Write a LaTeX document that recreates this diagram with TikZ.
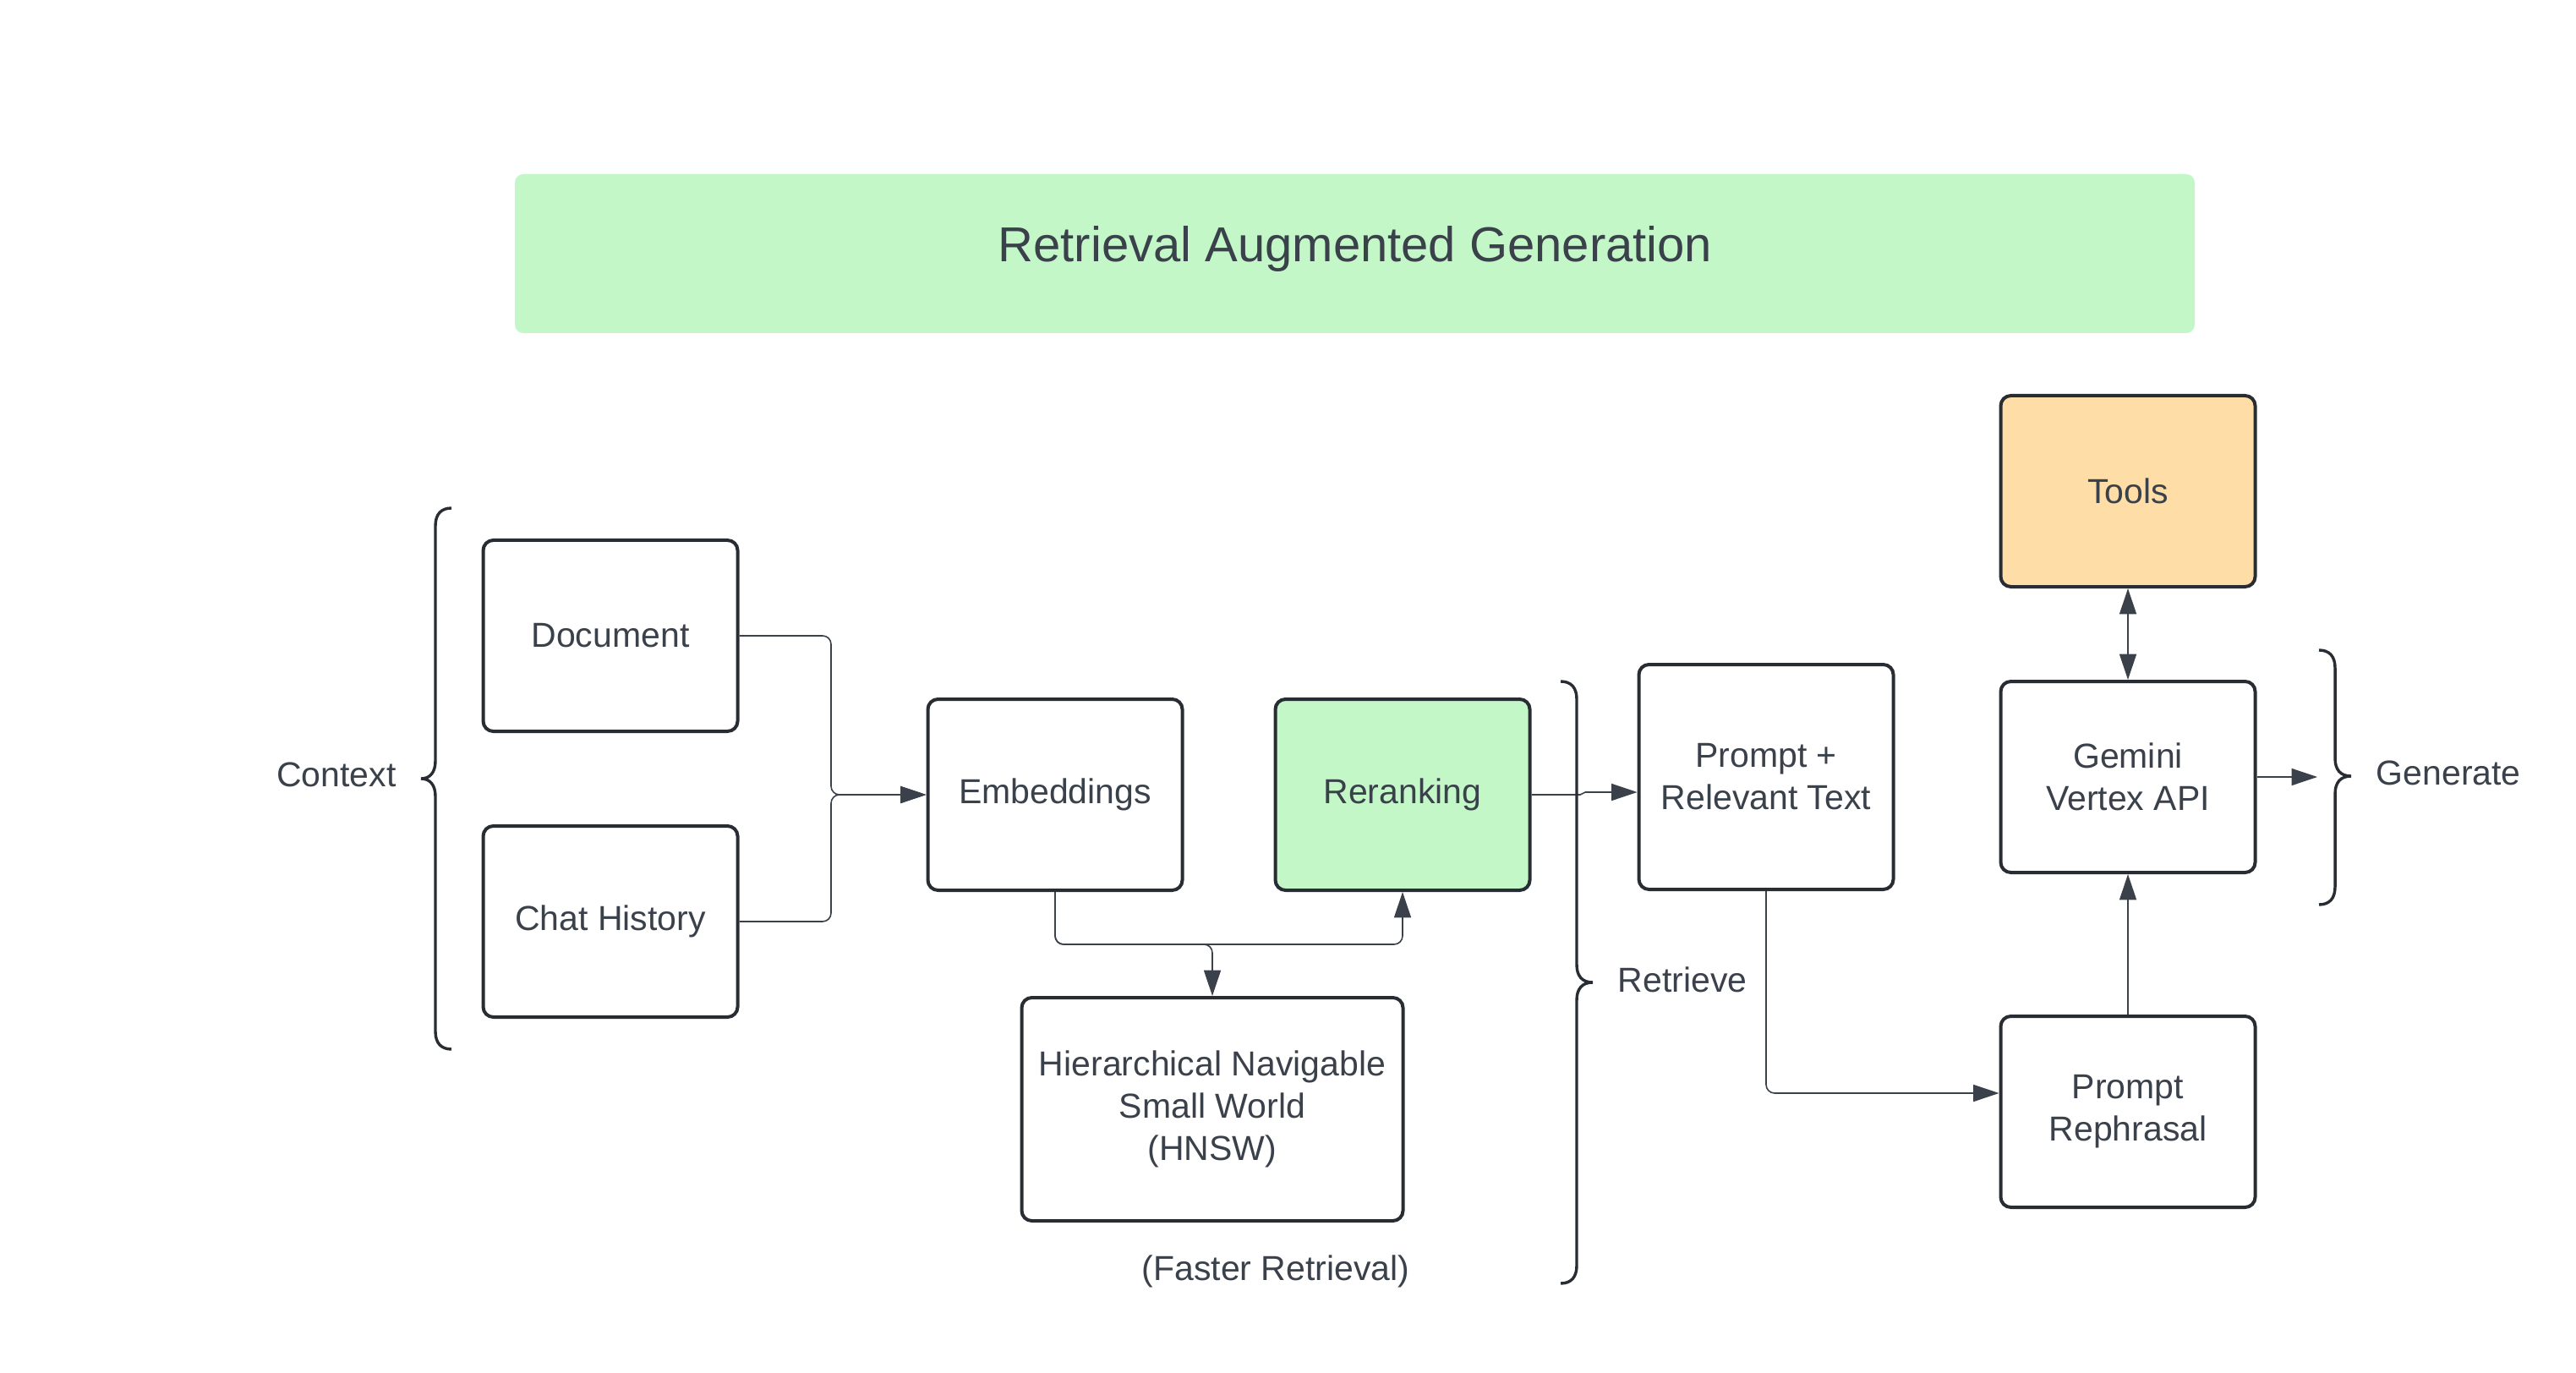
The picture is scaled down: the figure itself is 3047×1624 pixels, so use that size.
\documentclass[tikz,border=0pt]{standalone}
\usepackage{fontspec}
\setmainfont{Liberation Sans}
\usetikzlibrary{arrows.meta}
\definecolor{txt}{RGB}{58,65,74}
\definecolor{bord}{RGB}{40,44,51}
\definecolor{lgreen}{HTML}{C3F7C8}
\definecolor{lorange}{HTML}{FFDDA6}
\begin{document}
\begin{tikzpicture}[x=0.25pt,y=-0.25pt,
  box/.style={draw=bord, line width=1pt, rounded corners=3pt, minimum width=75.25pt, minimum height=56.5pt, inner sep=0pt, align=center, text=txt, font=\fontsize{10.25}{12.5}\selectfont},
  lbl/.style={text=txt, inner sep=0pt, font=\fontsize{10.25}{12.5}\selectfont},
  conn/.style={draw=txt, line width=0.4pt, rounded corners=2.5pt},
  arr/.style={-{Triangle[length=7.6pt,width=5pt]}},
  brc/.style={draw=bord, line width=0.85pt}]
\useasboundingbox (0,0) rectangle (3047,1624);
% title
\node[fill=lgreen, rounded corners=2.5pt, minimum width=496.75pt, minimum height=47pt, inner sep=0pt] (title) at (1602.5,300) {};
\node[anchor=base, text=txt, font=\fontsize{14.5}{17}\selectfont, inner sep=0pt] (ttext) at (1603,310) {Retrieval Augmented Generation};
% boxes
\node[box] (doc) at (722,752) {Document};
\node[box] (chat) at (722,1090) {Chat History};
\node[box] (emb) at (1248,940) {Embeddings};
\node[box, fill=lgreen] (rr) at (1659,940) {Reranking};
\node[box, minimum width=112.75pt, minimum height=66pt] (hnsw) at (1434,1312) {Hierarchical Navigable\\Small World\\(HNSW)};
\node[box, minimum height=66.5pt] (pr) at (2089,919) {Prompt +\\Relevant Text};
\node[box, fill=lorange] (tools) at (2517,581) {Tools};
\node[box] (gem) at (2517,919) {Gemini\\Vertex API};
\node[box] (reph) at (2517,1315) {Prompt\\Rephrasal};
% connectors
\draw[conn,arr] (doc.east) -- (983,752) -- (983,940) -- (emb.west);
\draw[conn,arr] (chat.east) -- (983,1090) -- (983,940) -- (emb.west);
\draw[conn,arr] (emb.south) -- (1248,1117) -- (1434,1117) -- (hnsw.north);
\draw[conn,arr] (emb.south) -- (1248,1117) -- (1659,1117) -- (rr.south);
\draw[conn,arr,sharp corners] (rr.east) -- (1869,940) -- (1875,937) -- (pr.west |- 0,937);
\draw[conn,arr] (pr.south) -- (2089,1293) -- (reph.west |- 0,1293);
\draw[conn,arr] (reph.north) -- (gem.south);
\draw[conn,{Triangle[length=7.6pt,width=5pt]}-{Triangle[length=7.6pt,width=5pt]}] (tools.south) -- (gem.north);
\coordinate (genend) at (2741,919);
\draw[conn,arr] (gem.east) -- (genend);
% braces
\draw[brc] (534,601) .. controls (522,601) and (515,608) .. (515,622) -- (515,900) .. controls (515,913) and (509,921) .. (498,921) .. controls (509,921) and (515,929) .. (515,942) -- (515,1220) .. controls (515,1234) and (522,1241) .. (534,1241);
\draw[brc] (1846,806) .. controls (1858,806) and (1865,813) .. (1865,827) -- (1865,1141) .. controls (1865,1154) and (1871,1162) .. (1884,1162) .. controls (1871,1162) and (1865,1170) .. (1865,1183) -- (1865,1497) .. controls (1865,1511) and (1858,1518) .. (1846,1518);
\draw[brc] (2743,769) .. controls (2755,769) and (2762,776) .. (2762,790) -- (2762,897) .. controls (2762,910) and (2768,918) .. (2781,918) .. controls (2768,918) and (2762,926) .. (2762,939) -- (2762,1049) .. controls (2762,1063) and (2755,1070) .. (2743,1070);
% labels
\node[lbl] (ctx) at (398,916) {Context};
\node[lbl, anchor=west] (ret) at (1913,1159) {Retrieve};
\node[lbl, anchor=west] (gen) at (2810,914) {Generate};
\node[lbl] (fast) at (1509,1504) {(Faster Retrieval)};
\end{tikzpicture}
\end{document}
